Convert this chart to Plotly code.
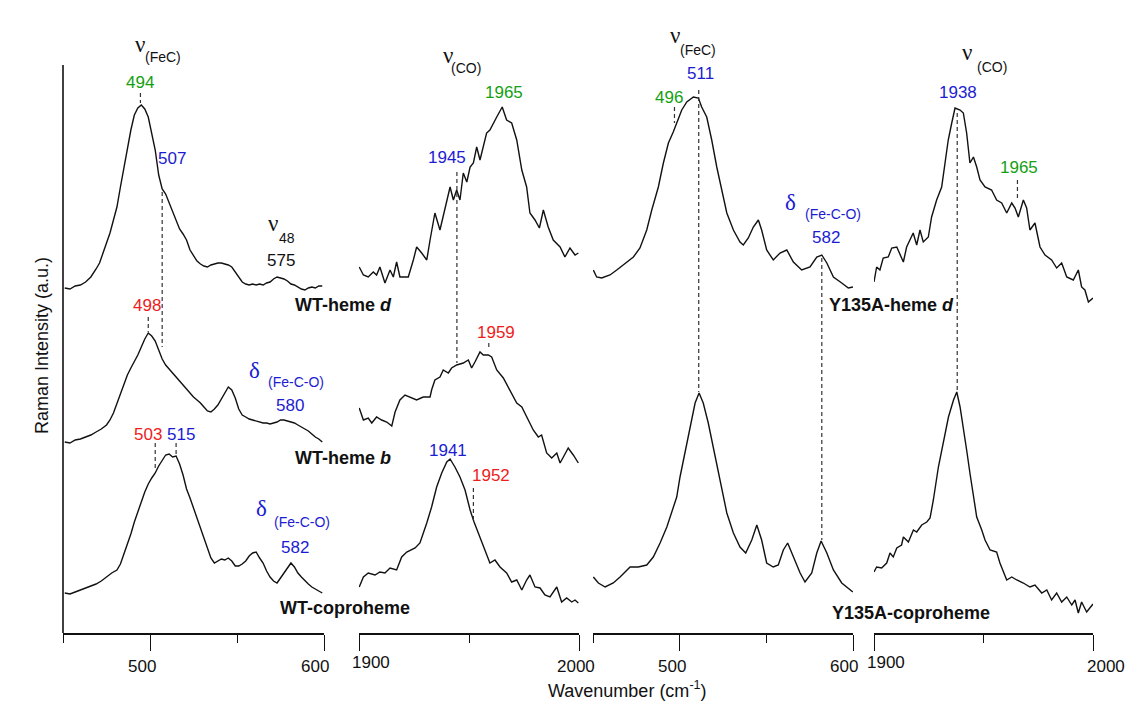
import plotly.graph_objects as go

# ---------------- data (wavenumber in cm-1, relative Raman intensity in a.u.) ----------------
# Panel 1: WT, Fe-C region
wt_d_fec_x = [451, 454, 457, 460, 463, 466, 469, 471, 473, 475, 477, 479, 481, 483, 485, 487, 489, 491, 493, 495,
              497, 499, 501, 503, 505, 507, 509, 511, 513, 515, 517, 519, 521, 523, 525, 527, 529, 531, 533, 535,
              537, 539, 541, 543, 545, 547, 549, 551, 553, 555, 557, 559, 561, 563, 565, 567, 569, 571, 573, 575,
              577, 579, 581, 583, 585, 587, 589, 591, 593, 595, 597, 599]
wt_d_fec_y = [5, 4, 7, 8, 11, 16, 24, 30, 40, 50, 60, 73, 86, 106, 126, 146, 163, 178, 185, 188,
              184, 176, 161, 143, 118, 104, 99, 90, 80, 72, 64, 59, 53, 43, 37, 32, 29, 27, 26, 28,
              29, 30, 30, 29, 28, 26, 21, 16, 11, 9, 8, 9, 8, 9, 8, 10, 11, 14, 16, 15,
              14, 12, 9, 8, 6, 4, 3, 5, 6, 5, 7, 7]

wt_b_fec_x = [451, 454, 457, 460, 463, 466, 469, 472, 475, 477, 479, 481, 483, 485, 487, 489, 491, 493, 495, 497,
              499, 501, 503, 505, 507, 509, 511, 513, 515, 517, 519, 521, 523, 525, 527, 529, 531, 533, 535, 537,
              539, 541, 543, 545, 547, 549, 551, 553, 555, 557, 559, 561, 563, 565, 567, 569, 571, 573, 575, 577,
              579, 581, 583, 585, 587, 589, 591, 593, 595, 597, 599]
wt_b_fec_y = [3, 2, 5, 6, 8, 10, 13, 16, 20, 25, 32, 42, 52, 62, 70, 77, 83, 90, 98, 106,
              112, 109, 104, 95, 86, 80, 76, 72, 68, 63, 59, 55, 52, 48, 45, 42, 38, 34, 33, 36,
              40, 46, 53, 58, 55, 47, 36, 30, 28, 26, 25, 24, 23, 22, 22, 21, 22, 23, 25, 25,
              24, 23, 22, 20, 18, 16, 14, 11, 8, 6, 3]

wt_c_fec_x = [451, 454, 457, 460, 463, 466, 469, 472, 475, 478, 481, 483, 485, 487, 489, 491, 493, 495, 497, 499,
              501, 503, 505, 507, 509, 511, 513, 515, 517, 519, 521, 523, 525, 527, 529, 531, 533, 535, 537, 539,
              541, 543, 545, 547, 549, 551, 553, 555, 557, 559, 561, 563, 565, 567, 569, 571, 573, 575, 577, 579,
              581, 583, 585, 587, 589, 591, 593, 595, 597, 599]
wt_c_fec_y = [3, 2, 4, 6, 8, 10, 12, 15, 19, 23, 26, 32, 42, 51, 62, 74, 85, 94, 104, 112,
              118, 123, 130, 136, 141, 142, 139, 140, 132, 121, 107, 98, 88, 77, 67, 57, 47, 38, 33, 35,
              37, 36, 38, 35, 30, 30, 32, 35, 40, 43, 44, 38, 33, 25, 19, 15, 13, 18, 23, 28,
              33, 29, 23, 19, 15, 12, 9, 7, 5, 3]

# Panel 2: WT, C-O region
wt_d_co_x = [1900.1, 1902, 1904.2, 1906.5, 1908, 1909.5, 1911.8, 1914.1, 1915.6, 1917.1, 1918.6, 1922.4, 1924.7,
             1926.2, 1928.5, 1930.8, 1932.3, 1934.5, 1936.8, 1939.1, 1941.4, 1942.9, 1944.4, 1945.9, 1947.4, 1949,
             1950.5, 1952, 1953.5, 1955, 1956.5, 1958, 1959.5, 1961, 1962.6, 1965.1, 1967.1, 1969.4, 1971.7, 1974,
             1976.2, 1977.7, 1980, 1982, 1983.8, 1986, 1988.3, 1991.4, 1993.6, 1995.9, 1998.2, 1999.7]
wt_d_co_y = [26, 18, 16, 21, 18, 26, 10, 23, 16, 31, 16, 16, 33, 46, 40, 33, 53, 80, 63, 83,
             106, 93, 103, 93, 120, 111, 126, 130, 146, 133, 146, 160, 163, 170, 176, 186, 173, 170, 153, 123,
             106, 80, 73, 65, 83, 66, 53, 46, 36, 45, 38, 40]

wt_b_co_x = [1900.1, 1902, 1904.2, 1905.8, 1908, 1910.3, 1912.6, 1914.9, 1916.4, 1918.6, 1920.9, 1923.2, 1926.2,
             1929.2, 1932.3, 1933, 1934.5, 1936.8, 1938.3, 1940.6, 1942.1, 1944.4, 1947.4, 1949.7, 1951.2, 1952.7,
             1955, 1956.5, 1958.8, 1960.3, 1962.6, 1965.6, 1968.6, 1971.7, 1974, 1976.2, 1979.2, 1981.5, 1983,
             1985.3, 1987.6, 1989.9, 1991.4, 1992.9, 1995.1, 1997.4, 1999.7]
wt_b_co_y = [62, 50, 52, 47, 53, 50, 48, 44, 58, 70, 75, 73, 70, 73, 73, 80, 90, 93, 100, 97,
             102, 105, 107, 110, 102, 108, 118, 115, 115, 113, 100, 92, 80, 67, 63, 53, 40, 33, 35, 17,
             12, 17, 7, 13, 22, 15, 7]

wt_c_co_x = [1900.1, 1902, 1904.2, 1907.3, 1909.5, 1911.8, 1914.1, 1917.1, 1919.4, 1921.7, 1925.5, 1927.7, 1930.8,
             1933, 1935.3, 1937.6, 1939.9, 1941.4, 1943.6, 1945.9, 1948.2, 1950.5, 1952.3, 1954.2, 1956.5, 1959.5,
             1961.8, 1964.1, 1967.1, 1969.4, 1971.7, 1974, 1976.2, 1977.7, 1980, 1982.3, 1984.5, 1986.8, 1989.9,
             1992.1, 1994.4, 1996.7, 1998.2, 1999.7]
wt_c_co_y = [18, 28, 32, 30, 33, 32, 37, 35, 48, 53, 57, 62, 82, 98, 118, 132, 143, 146, 138, 128,
             115, 95, 83, 72, 58, 42, 45, 38, 32, 23, 25, 15, 25, 30, 18, 17, 10, 8, 18, 3,
             7, 3, 5, 2]

# Panel 3: Y135A, Fe-C region
y135_d_fec_x = [450.2, 452.1, 455, 459.8, 463.7, 467.5, 473.3, 477.1, 481, 483.9, 487.7, 490.6, 493.5, 496.3, 498.3,
                501.2, 504.1, 507.9, 510.8, 512.7, 515.6, 518.5, 521.4, 524.3, 527.2, 531, 534.8, 536.7, 539.6,
                542.5, 545.4, 547.3, 550.2, 554, 557.9, 561.8, 565.6, 570.4, 575.2, 579.1, 582, 584.9, 588.7,
                593.5, 597.3, 600]
y135_d_fec_y = [20, 13, 12, 15, 20, 25, 33, 42, 60, 80, 103, 127, 147, 158, 167, 180, 188, 193, 192, 183,
                173, 150, 123, 100, 77, 60, 48, 45, 52, 63, 70, 60, 40, 30, 37, 40, 28, 20, 23, 33,
                35, 27, 13, 7, 2, 3]

y135_c_fec_x = [450.2, 453.1, 457, 461.7, 465.6, 471.4, 476.1, 481, 484.8, 488.7, 492.6, 495.4, 498.3, 500.2, 503.1,
                506, 508.9, 511.2, 513.6, 516.5, 519.4, 523.3, 527.2, 531, 534.8, 538.1, 541.6, 544.5, 547.3,
                550.2, 554, 556.9, 559.8, 562.3, 565.6, 569.5, 572.3, 576.2, 579.1, 581.6, 584.9, 588.7, 593.5,
                596.4, 599.9]
y135_c_fec_y = [18, 12, 8, 12, 18, 28, 28, 30, 38, 52, 68, 82, 98, 118, 142, 168, 192, 202, 192, 172,
                148, 115, 82, 62, 48, 42, 55, 70, 55, 32, 28, 30, 45, 52, 38, 22, 13, 22, 42, 54,
                42, 25, 12, 8, 3]

# Panel 4: Y135A, C-O region
y135_d_co_x = [1900, 1901.2, 1902.7, 1904.2, 1906.5, 1908.1, 1910.4, 1911.9, 1913.4, 1914.9, 1916.4, 1917.9, 1919.5,
               1921, 1922.5, 1924.8, 1926.3, 1928.6, 1930.9, 1932.4, 1933.9, 1935.5, 1937, 1939.3, 1940.8, 1942.3,
               1943.8, 1945.4, 1946.9, 1948.4, 1950.7, 1953.7, 1956, 1958.3, 1960.6, 1962.9, 1964.4, 1965.9, 1968.2,
               1969.7, 1971.2, 1973.5, 1975.8, 1978.1, 1981.1, 1983.4, 1985.7, 1988, 1991, 1993.3, 1994.8, 1996.3,
               1997.9, 2000]
y135_d_co_y = [18, 33, 30, 42, 43, 52, 53, 45, 38, 53, 60, 67, 55, 70, 58, 63, 83, 100, 113, 137,
               160, 177, 192, 190, 187, 167, 137, 143, 133, 120, 113, 110, 100, 97, 87, 97, 92, 83, 100, 92,
               70, 77, 53, 45, 40, 32, 37, 23, 20, 30, 13, 10, -2, 2]

y135_c_co_x = [1900, 1901.2, 1903.5, 1905.8, 1907.3, 1908.8, 1910.4, 1912.6, 1913.4, 1915.7, 1918, 1919.5, 1921.8,
               1924.1, 1925.6, 1927.1, 1929.4, 1931.7, 1934, 1936.3, 1937.8, 1939.3, 1940.8, 1942.3, 1943.8, 1945.4,
               1946.9, 1949.2, 1950.7, 1953, 1956, 1957.5, 1960.6, 1962.9, 1965.2, 1968.2, 1971.2, 1973.5, 1976.6,
               1978.9, 1981.1, 1983.4, 1985.7, 1988, 1990.3, 1991.8, 1993.3, 1994.8, 1997.1, 2000]
y135_c_co_y = [38, 43, 42, 47, 57, 53, 62, 65, 73, 68, 80, 78, 85, 88, 92, 110, 143, 170, 193, 210,
               218, 203, 183, 160, 137, 113, 93, 80, 70, 60, 58, 47, 30, 33, 30, 27, 23, 25, 17, 20,
               10, 17, 8, 13, 5, 10, -3, 8, -2, 6]

# axis ranges and tick labels
fec_range = [450, 600]
co_range = [1900, 2000]
fec_major_ticks = [500, 600]
fec_minor_ticks = [450, 550]
fec_tick_labels = ["500", "600"]
co_major_ticks = [1900, 2000]
co_minor_ticks = [1950]
co_tick_labels = ["1900", "2000"]

# peak labels: (panel, wavenumber, text, colour key, label y)
peak_labels = [
    (1, 494, "494", "green", 553), (1, 512.6, "507", "blue", 477), (1, 575, "575", "black", 375),
    (1, 498.2, "498", "red", 330), (1, 580.3, "580", "blue", 230),
    (1, 498.8, "503", "red", 201), (1, 517.7, "515", "blue", 201), (1, 583.2, "582", "blue", 88),
    (2, 1965.8, "1965", "green", 543), (2, 1940, "1945", "blue", 478), (2, 1962.1, "1959", "red", 303),
    (2, 1940.5, "1941", "blue", 185), (2, 1959.9, "1952", "red", 160),
    (3, 512, "511", "blue", 562), (3, 494.1, "496", "green", 538), (3, 584.3, "582", "blue", 398),
    (4, 1938.4, "1938", "blue", 543), (4, 1966.2, "1965", "green", 468),
]
# dashed peak markers: (panel, wavenumber, y from, y to)
peak_marks = [
    (1, 494.5, 542, 532), (1, 507, 443, 288), (1, 499, 318, 303), (1, 503, 192, 167), (1, 515, 192, 180),
    (2, 1944.5, 463, 272), (2, 1959, 292, 285), (2, 1952, 147, 115),
    (3, 497, 528, 512), (3, 511, 545, 243), (3, 582, 377, 95),
    (4, 1938, 522, 243), (4, 1965.5, 455, 435),
]
# mode labels: (panel, symbol x, symbol y, symbol, sub x, sub y, subscript, colour key)
mode_labels = [
    (1, 494.2, 591, "ν", 507.4, 578, "(FeC)", "black"),
    (1, 570.6, 412, "ν", 578.6, 397, "48", "black"),
    (1, 560.2, 265, "δ", 583.8, 253, "(Fe-C-O)", "blue"),
    (1, 564.2, 127, "δ", 587.2, 113, "(Fe-C-O)", "blue"),
    (2, 1940.6, 580, "ν", 1948.7, 567, "(CO)", "black"),
    (3, 497.3, 600, "ν", 510.6, 585, "(FeC)", "black"),
    (3, 563.7, 433, "δ", 588.5, 421, "(Fe-C-O)", "blue"),
    (4, 1942.3, 583, "ν", 1953.9, 568, "(CO)", "black"),
]
# sample names: (panel, x of left edge, y, text)
sample_labels = [
    (1, 582.2, 330, "<b>WT-heme <i>d</i></b>"),
    (1, 582.2, 177, "<b>WT-heme <i>b</i></b>"),
    (1, 573.4, 27, "<b>WT-coproheme</b>"),
    (3, 585.0, 330, "<b>Y135A-heme <i>d</i></b>"),
    (3, 586.8, 22, "<b>Y135A-coproheme</b>"),
]

# ---------------- layout / style ----------------
W, H = 1129, 704
COLORS = {"green": "#13a013", "blue": "#1c1cd2", "red": "#ee1c1c", "black": "#111111"}
FONT = "Arial, Liberation Sans, sans-serif"
SERIF = "Liberation Serif, Times New Roman, serif"
AXIS_PY = 633          # pixel row of the x axes
AXIS_TOP_PY = 65       # top of the intensity axis line
Y_RANGE = [635 - AXIS_PY, 635]   # y value = 635 - pixel row
ydom = [(H - AXIS_PY) / H, 1.0]
xdoms = {1: [63 / W, 324 / W], 2: [359 / W, 579 / W], 3: [593 / W, 853 / W], 4: [874 / W, 1093 / W]}
offsets = {"wt_d": 342, "wt_b": 190, "wt_c": 39, "wt_d_co": 342, "wt_b_co": 165, "wt_c_co": 30,
           "y_d": 345, "y_c": 40, "y_d_co": 335, "y_c_co": 25}
# tick label nudges (px) and heights, as in the reference
tick_label_shift = {1: [-8, -9], 2: [12, -3], 3: [-8, -9], 4: [12, 13]}
tick_label_py = {1: [666, 666], 2: [662, 666], 3: [666, 666], 4: [662, 666]}

spectra = [
    (1, wt_d_fec_x, wt_d_fec_y, "wt_d"), (1, wt_b_fec_x, wt_b_fec_y, "wt_b"), (1, wt_c_fec_x, wt_c_fec_y, "wt_c"),
    (2, wt_d_co_x, wt_d_co_y, "wt_d_co"), (2, wt_b_co_x, wt_b_co_y, "wt_b_co"), (2, wt_c_co_x, wt_c_co_y, "wt_c_co"),
    (3, y135_d_fec_x, y135_d_fec_y, "y_d"), (3, y135_c_fec_x, y135_c_fec_y, "y_c"),
    (4, y135_d_co_x, y135_d_co_y, "y_d_co"), (4, y135_c_co_x, y135_c_co_y, "y_c_co"),
]


def ax(p):
    return ("x" if p == 1 else f"x{p}"), ("y" if p == 1 else f"y{p}")


fig = go.Figure()
for p, xs, ys, key in spectra:
    xr, yr = ax(p)
    fig.add_trace(go.Scatter(x=xs, y=[v + offsets[key] for v in ys], mode="lines", xaxis=xr, yaxis=yr,
                             line=dict(color="#111111", width=1.4), hoverinfo="skip", showlegend=False))

layout = dict(width=W, height=H, template="none",
              margin=dict(l=0, r=0, t=0, b=0, pad=0, autoexpand=False), paper_bgcolor="white",
              plot_bgcolor="white", showlegend=False, font=dict(family=FONT, color="#111111"))
for p in range(1, 5):
    xname = "xaxis" if p == 1 else f"xaxis{p}"
    yname = "yaxis" if p == 1 else f"yaxis{p}"
    fec = p in (1, 3)
    layout[xname] = dict(domain=xdoms[p], range=fec_range if fec else co_range, anchor=ax(p)[1],
                         showline=True, linecolor="#111111", linewidth=1.6, ticks="outside", ticklen=16,
                         tickwidth=1.4, tickcolor="#111111", showgrid=False, zeroline=False,
                         tickmode="array", tickvals=fec_major_ticks if fec else co_major_ticks,
                         showticklabels=False, automargin=False,
                         minor=dict(tickmode="array", tickvals=fec_minor_ticks if fec else co_minor_ticks,
                                    ticks="outside", ticklen=8, tickwidth=1.4, tickcolor="#111111",
                                    showgrid=False))
    layout[yname] = dict(domain=ydom, range=Y_RANGE, anchor=ax(p)[0], visible=False, automargin=False,
                         showgrid=False, zeroline=False)
fig.update_layout(**layout)

anns = []
for p, x, txt, ck, y in peak_labels:
    xr, yr = ax(p)
    anns.append(dict(x=x, y=y, xref=xr, yref=yr, text=txt, showarrow=False,
                     font=dict(size=17, color=COLORS[ck], family=FONT)))
for p, sx, sy, sym, bx, by, sub, ck in mode_labels:
    xr, yr = ax(p)
    anns.append(dict(x=sx, y=sy, xref=xr, yref=yr, text=sym, showarrow=False,
                     font=dict(size=23, color=COLORS[ck], family=SERIF)))
    anns.append(dict(x=bx, y=by, xref=xr, yref=yr, text=sub, showarrow=False,
                     font=dict(size=14, color=COLORS[ck], family=FONT)))
for p, x, y, txt in sample_labels:
    xr, yr = ax(p)
    anns.append(dict(x=x, y=y, xref=xr, yref=yr, text=txt, showarrow=False, xanchor="left",
                     font=dict(size=18, color="#111111", family=FONT)))
# tick labels of the four wavenumber axes
for p in range(1, 5):
    xr, _ = ax(p)
    fec = p in (1, 3)
    vals = fec_major_ticks if fec else co_major_ticks
    texts = fec_tick_labels if fec else co_tick_labels
    for i, (v, t) in enumerate(zip(vals, texts)):
        anns.append(dict(x=v, y=(H - tick_label_py[p][i]) / H, xref=xr, yref="paper", text=t,
                         showarrow=False, xanchor="center", yanchor="middle", xshift=tick_label_shift[p][i],
                         font=dict(size=17, color="#111111", family=FONT)))
anns.append(dict(x=42 / W, y=(H - 346) / H, xref="paper", yref="paper", text="Raman Intensity (a.u.)",
                 textangle=-90, showarrow=False, xanchor="center", yanchor="middle",
                 font=dict(size=18, color="#111111", family=FONT)))
anns.append(dict(x=627 / W, y=(H - 689) / H, xref="paper", yref="paper", text="Wavenumber (cm<sup>-1</sup>)",
                 showarrow=False, xanchor="center", yanchor="middle",
                 font=dict(size=18, color="#111111", family=FONT)))
fig.update_layout(annotations=anns)

shapes = [dict(type="line", xref="paper", yref="paper", x0=63 / W, x1=63 / W,
               y0=(H - AXIS_PY) / H, y1=(H - AXIS_TOP_PY) / H, line=dict(color="#111111", width=1.6))]
for p, x, y0, y1 in peak_marks:
    xr, yr = ax(p)
    shapes.append(dict(type="line", xref=xr, yref=yr, x0=x, x1=x, y0=y0, y1=y1,
                       line=dict(color="#333333", width=1.2, dash="4px,3px")))
fig.update_layout(shapes=shapes)

fig.write_html("out.html")
